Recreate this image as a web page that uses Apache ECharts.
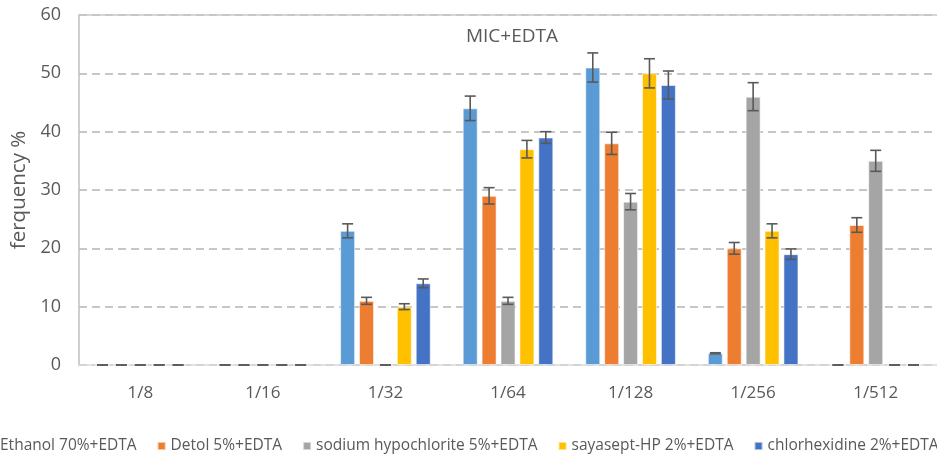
<!DOCTYPE html>
<html>
<head>
<meta charset="utf-8">
<script src="https://cdn.jsdelivr.net/npm/echarts@6/dist/echarts.min.js"></script>
<style>
html,body{margin:0;padding:0;background:#fff;overflow:hidden;}
#chart{position:absolute;left:-8px;top:0;width:945px;height:455px;}
</style>
</head>
<body>
<div id="chart"></div>
<script>
var categories = ['1/8', '1/16', '1/32', '1/64', '1/128', '1/256', '1/512'];
var seriesNames = ['Ethanol 70%+EDTA', 'Detol 5%+EDTA', 'sodium hypochlorite 5%+EDTA', 'sayasept-HP 2%+EDTA', 'chlorhexidine 2%+EDTA'];
var ethanol = [0, 0, 23, 44, 51, 2, 0];
var ethanolErr = [0, 0, 1.2, 2.1, 2.5, 0.1, 0];
var detol = [0, 0, 11, 29, 38, 20, 24];
var detolErr = [0, 0, 0.6, 1.4, 1.9, 1.0, 1.25];
var sodium = [0, 0, 0, 11, 28, 46, 35];
var sodiumErr = [0, 0, 0, 0.6, 1.4, 2.4, 1.8];
var sayasept = [0, 0, 10, 37, 50, 23, 0];
var sayaseptErr = [0, 0, 0.5, 1.5, 2.5, 1.2, 0];
var chlor = [0, 0, 14, 39, 48, 19, 0];
var chlorErr = [0, 0, 0.75, 1.0, 2.4, 0.9, 0];
var yTicks = [0, 10, 20, 30, 40, 50, 60];

var values = [ethanol, detol, sodium, sayasept, chlor];
var errors = [ethanolErr, detolErr, sodiumErr, sayaseptErr, chlorErr];
var colors = ['#5B9BD5', '#ED7D31', '#A5A5A5', '#FFC000', '#4472C4'];

var BAR_W = 15;
var GAP_PCT = 0.26;
var step = BAR_W * (1 + GAP_PCT);
var total = BAR_W * 5 + BAR_W * GAP_PCT * 4;

var font = 'Open Sans';
var series = [];
values.forEach(function (v, i) {
  series.push({
    name: seriesNames[i],
    type: 'bar',
    data: v,
    barWidth: BAR_W,
    barGap: (GAP_PCT * 100) + '%',
    itemStyle: { color: colors[i], borderColor: 'rgba(255,255,255,0.55)', borderWidth: 1 },
    silent: true,
    z: 2
  });
});
values.forEach(function (v, i) {
  var offset = -total / 2 + BAR_W / 2 + i * step;
  series.push({
    type: 'custom',
    name: seriesNames[i] + ' err',
    data: v.map(function (val, k) { return [k, val, errors[i][k]]; }),
    z: 5,
    silent: true,
    renderItem: function (params, api) {
      var c = api.value(0), val = api.value(1), e = api.value(2);
      var hi = api.coord([c, val + e]);
      var lo = api.coord([c, val - e]);
      var x = hi[0] + offset;
      var hw = 5.5;
      var st = { stroke: '#595959', lineWidth: 1.6 };
      return {
        type: 'group',
        children: [
          { type: 'line', shape: { x1: x, y1: hi[1], x2: x, y2: lo[1] }, style: st },
          { type: 'line', shape: { x1: x - hw, y1: hi[1], x2: x + hw, y2: hi[1] }, style: st },
          { type: 'line', shape: { x1: x - hw, y1: lo[1], x2: x + hw, y2: lo[1] }, style: st }
        ]
      };
    }
  });
});

var chart = echarts.init(document.getElementById('chart'));
chart.setOption({
  animation: false,
  backgroundColor: '#ffffff',
  title: {
    text: 'MIC+EDTA',
    left: 515, top: 22, textAlign: 'center',
    textStyle: { fontFamily: font, fontSize: 19, fontWeight: 'normal', color: '#595959' }
  },
  grid: { left: 87, right: -4, top: 15, bottom: 90 },
  legend: {
    data: seriesNames,
    left: -11, top: 433, width: 1100,
    itemWidth: 8, itemHeight: 8, itemGap: 20,
    icon: 'rect',
    textStyle: { fontFamily: font, fontSize: 15.5, color: '#595959' }
  },
  xAxis: [{
    type: 'category',
    data: categories,
    axisLine: { lineStyle: { color: '#D9D9D9', width: 1.5 } },
    axisTick: { show: false },
    axisLabel: { fontFamily: font, fontSize: 17, color: '#595959', margin: 20 }
  }, {
    type: 'category',
    data: categories,
    position: 'top',
    axisLine: { lineStyle: { color: '#C8C8C8', width: 1.5 } },
    axisTick: { show: false },
    axisLabel: { show: false }
  }],
  yAxis: {
    type: 'value',
    min: yTicks[0], max: yTicks[yTicks.length - 1], interval: 10,
    name: 'ferquency %',
    nameLocation: 'middle',
    nameGap: 45,
    nameTextStyle: { fontFamily: font, fontSize: 20.5, color: '#595959' },
    axisLine: { show: true, lineStyle: { color: '#BFBFBF', width: 1.5 } },
    axisTick: { show: false },
    axisLabel: { fontFamily: font, fontSize: 18, color: '#595959', margin: 18 },
    splitLine: { lineStyle: { color: '#B4B4B4', type: [8, 5], width: 1.5 } }
  },
  series: series
});
</script>
</body>
</html>
